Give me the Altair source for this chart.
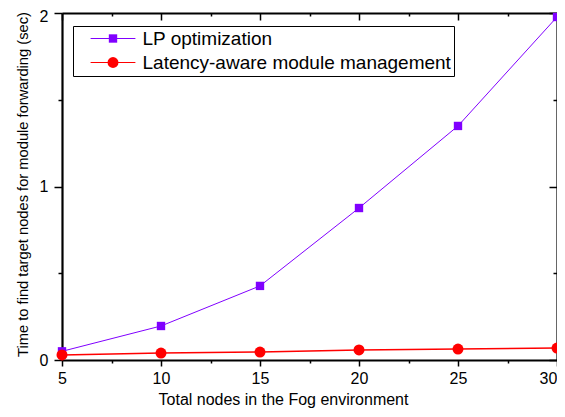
import altair as alt
import pandas as pd

nodes = [5, 10, 15, 20, 25, 30]
lp_times = [0.05, 0.196, 0.427, 0.876, 1.349, 1.977]
lam_times = [0.029, 0.040, 0.046, 0.058, 0.063, 0.069]
series_names = ["LP optimization", "Latency-aware module management"]
marker_keys = ["lp", "lam"]
series_colors = ["#8000ff", "#ff0000"]
x_tick_values = [5, 7.5, 10, 12.5, 15, 17.5, 20, 22.5, 25, 27.5, 30]
y_tick_values = [0, 0.5, 1, 1.5, 2]

rows = []
for n, v in zip(nodes, lp_times):
    rows.append({"nodes": n, "time": v, "series": series_names[0], "marker": marker_keys[0]})
for n, v in zip(nodes, lam_times):
    rows.append({"nodes": n, "time": v, "series": series_names[1], "marker": marker_keys[1]})
df = pd.DataFrame(rows)

W, H = 495, 347
FONT = "Liberation Sans"

xscale = alt.Scale(domain=[5, 30], nice=False, zero=False)
yscale = alt.Scale(domain=[0, 2], nice=False, zero=False)

x_major = "datum.value % 5 === 0"
y_major = "datum.value % 1 === 0"

bottom_axis = alt.Axis(
    orient="bottom", values=x_tick_values, title="Total nodes in the Fog environment",
    labelExpr=f"{x_major} ? datum.label : ''", format="~g",
    labelOffset={"condition": {"test": "datum.value === 30", "value": -9}, "value": 0},
    tickSize={"condition": {"test": x_major, "value": 6}, "value": 3},
    tickColor="black", tickWidth=1.5, domainColor="black", domainWidth=2.2,
    labelFont=FONT, labelFontSize=16, labelColor="black", labelPadding=4,
    titleFont=FONT, titleFontSize=16, titleFontWeight="normal", titleColor="black",
    titleX=221, titleY=44, titleAlign="center", titleBaseline="alphabetic",
    grid=False, labelFlush=False, labelOverlap=False,
)
left_axis = alt.Axis(
    orient="left", values=y_tick_values, title="Time to find target nodes for module forwarding (sec)",
    labelExpr=f"{y_major} ? datum.label : ''", format="~g",
    labelOffset={"condition": {"test": "datum.value === 2", "value": 3}, "value": 0},
    tickSize={"condition": {"test": y_major, "value": 8}, "value": 4},
    tickColor="black", tickWidth=1.5, domainColor="black", domainWidth=2.2,
    labelFont=FONT, labelFontSize=16, labelColor="black", labelPadding=6,
    titleFont=FONT, titleFontSize=14.7, titleFontWeight="normal", titleColor="black",
    titleX=-35, titleY=171, titleAlign="center", titleBaseline="alphabetic", titleAngle=-90,
    grid=False, labelFlush=False, labelOverlap=False,
)
top_axis = alt.Axis(
    orient="bottom", offset=-H, values=x_tick_values, title=None, labels=False,
    tickSize={"condition": {"test": x_major, "value": 7}, "value": 3},
    tickColor="black", tickWidth=1.5, domainColor="black", domainWidth=2.2, grid=False,
)
right_axis = alt.Axis(
    orient="left", offset=-W, values=y_tick_values, title=None, labels=False,
    tickSize={"condition": {"test": y_major, "value": 8}, "value": 4},
    tickColor="black", tickWidth=1.5, domainColor="black", domainWidth=2.2, grid=False,
)

line_legend = alt.Legend(
    title=None, orient="none", legendX=11, legendY=13, zindex=1,
    strokeColor="black", fillColor="white", padding=3, rowPadding=4,
    labelFont=FONT, labelFontSize=19, labelColor="black", labelLimit=0,
    symbolType="M-5.6,0H5.6", symbolSize=64, symbolOffset=27.5, labelOffset=20,
    symbolStrokeWidth=1.2,
)
marker_legend = alt.Legend(
    title=None, orient="none", legendX=11, legendY=13, zindex=2,
    padding=3, rowPadding=4,
    labelFont=FONT, labelFontSize=19, labelOpacity=0, labelExpr="''",
    symbolOffset=27.5, labelOffset=20, symbolOpacity=1, symbolStrokeWidth=0,
)

lines = alt.Chart(df).mark_line().encode(
    x=alt.X("nodes:Q", scale=xscale, axis=bottom_axis),
    y=alt.Y("time:Q", scale=yscale, axis=left_axis),
    color=alt.Color("series:N", scale=alt.Scale(domain=series_names, range=series_colors), legend=line_legend),
    strokeWidth=alt.condition(alt.datum.series == series_names[0], alt.value(1), alt.value(1.5)),
)

points = alt.Chart(df).mark_point(filled=True, opacity=1).encode(
    x=alt.X("nodes:Q", scale=xscale, axis=None),
    y=alt.Y("time:Q", scale=yscale, axis=None),
    fill=alt.Fill("marker:N", scale=alt.Scale(domain=marker_keys, range=series_colors), legend=marker_legend),
    shape=alt.Shape("marker:N", scale=alt.Scale(domain=marker_keys, range=["square", "circle"]), legend=marker_legend),
    size=alt.Size("marker:N", scale=alt.Scale(domain=marker_keys, range=[70, 120]), legend=marker_legend),
)

frame = alt.Chart(df).mark_point(opacity=0).encode(
    x=alt.X("nodes:Q", scale=xscale, axis=top_axis),
    y=alt.Y("time:Q", scale=yscale, axis=right_axis),
)

chart = alt.layer(lines, points, frame).resolve_axis(
    x="independent", y="independent"
).properties(
    width=W, height=H,
    autosize=alt.AutoSizeParams(type="none"),
    padding={"left": 54, "top": 5, "right": 0, "bottom": 49},
).configure_view(stroke=None).configure(background="white")

chart.save("out.html", embed_options={"renderer": "svg", "actions": False})
